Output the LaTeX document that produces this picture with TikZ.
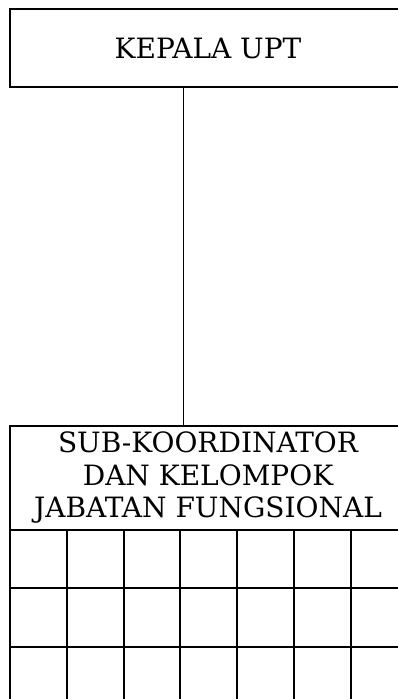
\documentclass[tikz,border=0pt]{standalone}
\usepackage{fontspec}
\setmainfont{DejaVu Serif}
\tikzset{
  x=1pt, y=-1pt,
  unitbox/.style={draw, line width=2pt, inner sep=0pt, outer sep=0pt},
  label text/.style={font=\fontsize{28}{32.5}\selectfont, align=center, inner sep=0pt},
  gridline/.style={line width=2pt},
  link/.style={line width=1.2pt}
}
\begin{document}
\begin{tikzpicture}
  \useasboundingbox (0,0) rectangle (398,699);
  \clip (0,0) rectangle (398,699);
  % head of the unit
  \node[unitbox, label text, minimum width=396pt, minimum height=78pt, anchor=north west]
    (kepala) at (10,9) {KEPALA UPT};
  % functional group with its table of positions
  \node[unitbox, minimum width=396pt, minimum height=280pt, anchor=north west]
    (sub) at (10,426) {};
  \node[label text, anchor=center] (subtext) at (208,478)
    {SUB-KOORDINATOR\\DAN KELOMPOK\\JABATAN FUNGSIONAL};
  \foreach \y in {530,588,647} \draw[gridline] (10,\y) -- (406,\y);
  \foreach \x in {67,124,180,237,294,351} \draw[gridline] (\x,530) -- (\x,706);
  % reporting line
  \draw[link] (kepala.south -| 183.5,0) -- (sub.north -| 183.5,0);
\end{tikzpicture}
\end{document}
